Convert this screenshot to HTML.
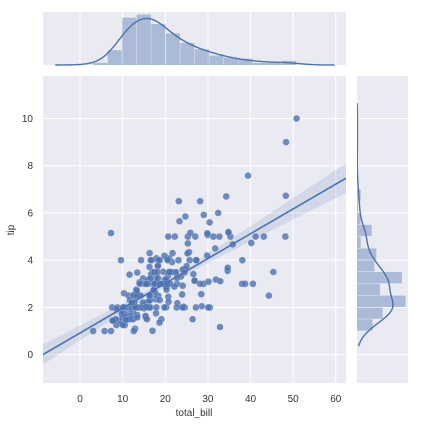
<!DOCTYPE html>
<html><head><meta charset="utf-8"><style>
html,body{margin:0;padding:0;background:#fff;}
svg{display:block;font-family:"Liberation Sans",sans-serif;}
</style></head><body>
<svg id="chart" width="421" height="424"></svg>
<script>
const totalBill=[16.99,10.34,21.01,23.68,24.59,25.29,8.77,26.88,15.04,14.78,10.27,35.26,15.42,18.43,14.83,21.58,10.33,16.29,16.97,20.65,17.92,20.29,15.77,39.42,19.82,17.81,13.37,12.69,21.7,19.65,9.55,18.35,15.06,20.69,17.78,24.06,16.31,16.93,18.69,31.27,16.04,17.46,13.94,9.68,30.4,18.29,22.23,32.4,28.55,18.04,12.54,10.29,34.81,9.94,25.56,19.49,38.01,26.41,11.24,48.27,20.29,13.81,11.02,18.29,17.59,20.08,16.45,3.07,20.23,15.01,12.02,17.07,26.86,25.28,14.73,10.51,17.92,27.2,22.76,17.29,19.44,16.66,10.07,32.68,15.98,34.83,13.03,18.28,24.71,21.16,28.97,22.49,5.75,16.32,22.75,40.17,27.28,12.03,21.01,12.46,11.35,15.38,44.3,22.42,20.92,15.36,20.49,25.21,18.24,14.31,14.0,7.25,38.07,23.95,25.71,17.31,29.93,10.65,12.43,24.08,11.69,13.42,14.26,15.95,12.48,29.8,8.52,14.52,11.38,22.82,19.08,20.27,11.17,12.26,18.26,8.51,10.33,14.15,16.0,13.16,17.47,34.3,41.19,27.05,16.43,8.35,18.64,11.87,9.78,7.51,14.07,13.13,17.26,24.55,19.77,29.85,48.17,25.0,13.39,16.49,21.5,12.66,16.21,13.81,17.51,24.52,20.76,31.71,10.59,10.63,50.81,15.81,7.25,31.85,16.82,32.9,17.89,14.48,9.6,34.63,34.65,23.33,45.35,23.17,40.55,20.69,20.9,30.46,18.15,23.1,15.69,19.81,28.44,15.48,16.58,7.56,10.34,43.11,13.0,13.51,18.71,12.74,13.0,16.4,20.53,16.47,26.59,38.73,24.27,12.76,30.06,25.89,48.33,13.27,28.17,12.9,28.15,11.59,7.74,30.14,12.16,13.42,8.58,15.98,13.42,16.27,10.09,20.45,13.28,22.12,24.01,15.69,11.61,10.77,15.53,10.07,12.6,32.83,35.83,29.03,27.18,22.67,17.82,18.78];
const tip=[1.01,1.66,3.5,3.31,3.61,4.71,2.0,3.12,1.96,3.23,1.71,5.0,1.57,3.0,3.02,3.92,1.67,3.71,3.5,3.35,4.08,2.75,2.23,7.58,3.18,2.34,2.0,2.0,4.3,3.0,1.45,2.5,3.0,2.45,3.27,3.6,2.0,3.07,2.31,5.0,2.24,2.54,3.06,1.32,5.6,3.0,5.0,6.0,2.05,3.0,2.5,2.6,5.2,1.56,4.34,3.51,3.0,1.5,1.76,6.73,3.21,2.0,1.98,3.76,2.64,3.15,2.47,1.0,2.01,2.09,1.97,3.0,3.14,5.0,2.2,1.25,3.08,4.0,3.0,2.71,3.0,3.4,1.83,5.0,2.03,5.17,2.0,4.0,5.85,3.0,3.0,3.5,1.0,4.3,3.25,4.73,4.0,1.5,3.0,1.5,2.5,3.0,2.5,3.48,4.08,1.64,4.06,4.29,3.76,4.0,3.0,1.0,4.0,2.55,4.0,3.5,5.07,1.5,1.8,2.92,2.31,1.68,2.5,2.0,2.52,4.2,1.48,2.0,2.0,2.18,1.5,2.83,1.5,2.0,3.25,1.25,2.0,2.0,2.0,2.75,3.5,6.7,5.0,5.0,2.3,1.5,1.36,1.63,1.73,2.0,2.5,2.0,2.74,2.0,2.0,5.14,5.0,3.75,2.61,2.0,3.5,2.5,2.0,2.0,3.0,3.48,2.24,4.5,1.61,2.0,10.0,3.16,5.15,3.18,4.0,3.11,2.0,2.0,4.0,3.55,3.68,5.65,3.5,6.5,3.0,5.0,3.5,2.0,3.5,4.0,1.5,4.19,2.56,2.02,4.0,1.44,2.0,5.0,2.0,2.0,4.0,2.01,2.0,2.5,4.0,3.23,3.41,3.0,2.03,2.23,2.0,5.16,9.0,2.5,6.5,1.1,3.0,1.5,1.44,3.09,2.2,3.48,1.92,3.0,1.58,2.5,2.0,3.0,2.72,2.88,2.0,3.0,3.39,1.47,3.0,1.25,1.0,1.17,4.67,5.92,2.0,2.0,1.75,3.0];
const xTicks=[0,10,20,30,40,50,60];
const yTicks=[0,2,4,6,8,10];
const billBins=14, tipBins=18;

const NS="http://www.w3.org/2000/svg";
const svg=document.getElementById('chart');
function mk(tag,attrs,parent){const e=document.createElementNS(NS,tag);for(const k in attrs)e.setAttribute(k,attrs[k]);(parent||svg).appendChild(e);return e;}
const M={l:43,r:346,t:76,b:383};
const X0=-8.7,X1=62.4,Y0=-1.2,Y1=11.8;
const sx=v=>M.l+(v-X0)/(X1-X0)*(M.r-M.l);
const sy=v=>M.b-(v-Y0)/(Y1-Y0)*(M.b-M.t);
const TOP={t:12,b:65}, RT={l:357,r:408};
const BG="#eaeaf2", C="#4c72b0";

let e;
e=mk('rect',{x:M.l,y:M.t,width:M.r-M.l,height:M.b-M.t,fill:BG});

e=mk('rect',{x:M.l,y:TOP.t,width:M.r-M.l,height:TOP.b-TOP.t,fill:BG});

e=mk('rect',{x:RT.l,y:M.t,width:RT.r-RT.l,height:M.b-M.t,fill:BG});


xTicks.forEach(t=>{
  mk('line',{x1:sx(t),x2:sx(t),y1:M.t,y2:M.b,stroke:'#fff','stroke-width':1});
  mk('line',{x1:sx(t),x2:sx(t),y1:TOP.t,y2:TOP.b,stroke:'#fff','stroke-width':1});
  e=mk('text',{x:sx(t),y:402,'text-anchor':'middle','font-size':10,fill:'#333'});e.textContent=t;
  
});
yTicks.forEach(t=>{
  mk('line',{x1:M.l,x2:M.r,y1:sy(t),y2:sy(t),stroke:'#fff','stroke-width':1});
  mk('line',{x1:RT.l,x2:RT.r,y1:sy(t),y2:sy(t),stroke:'#fff','stroke-width':1});
  e=mk('text',{x:33,y:sy(t)+3.5,'text-anchor':'end','font-size':10,fill:'#333'});e.textContent=t;
  
});
e=mk('text',{x:194,y:416,'text-anchor':'middle','font-size':10,fill:'#333'});e.textContent='total_bill';

e=mk('text',{x:0,y:0,'text-anchor':'middle','font-size':10,fill:'#333',transform:'translate(14,230) rotate(-90)'});e.textContent='tip';


const n=totalBill.length;
const mx=totalBill.reduce((a,b)=>a+b)/n, my=tip.reduce((a,b)=>a+b)/n;
let sxx=0,sxy=0;for(let i=0;i<n;i++){sxx+=(totalBill[i]-mx)**2;sxy+=(totalBill[i]-mx)*(tip[i]-my);}
const slope=sxy/sxx, icpt=my-slope*mx;
let sse=0;for(let i=0;i<n;i++){sse+=(tip[i]-icpt-slope*totalBill[i])**2;}
const s=Math.sqrt(sse/(n-2));
let up=[],lo=[];
for(let k=0;k<=60;k++){const xv=X0+(X1-X0)*k/60;const yh=icpt+slope*xv;const se=s*Math.sqrt(1/n+(xv-mx)**2/sxx)*1.97;
 up.push(sx(xv)+','+sy(yh+se));lo.unshift(sx(xv)+','+sy(yh-se));}
const clip=mk('clipPath',{id:'mc'});mk('rect',{x:M.l,y:M.t,width:M.r-M.l,height:M.b-M.t},clip);
const g=mk('g',{'clip-path':'url(#mc)'});
e=mk('polygon',{points:up.concat(lo).join(' '),fill:C,'fill-opacity':0.15},g);

totalBill.forEach((b,i)=>{
  const p=mk('circle',{cx:sx(b),cy:sy(tip[i]),r:3.4,fill:C,'fill-opacity':0.8,stroke:'#fff','stroke-width':0.3,'stroke-opacity':0.6},g);
  
  
});
e=mk('line',{x1:sx(X0),y1:sy(icpt+slope*X0),x2:sx(X1),y2:sy(icpt+slope*X1),stroke:C,'stroke-width':1.6},g);


function hist(arr,nb){const mn=Math.min(...arr),mxv=Math.max(...arr),w=(mxv-mn)/nb;const c=new Array(nb).fill(0);
 arr.forEach(v=>{let k=Math.floor((v-mn)/w);if(k>=nb)k=nb-1;c[k]++;});return {mn,w,d:c.map(v=>v/(arr.length*w))};}
function kde(arr,cut){const m=arr.reduce((a,b)=>a+b)/arr.length;const sd=Math.sqrt(arr.reduce((a,b)=>a+(b-m)**2,0)/(arr.length-1));
 const bw=sd*Math.pow(arr.length,-0.2);const lo=Math.min(...arr)-cut*bw,hi=Math.max(...arr)+cut*bw;const pts=[];
 for(let k=0;k<=150;k++){const x=lo+(hi-lo)*k/150;let d=0;arr.forEach(v=>{d+=Math.exp(-0.5*((x-v)/bw)**2);});pts.push([x,d/(arr.length*bw*Math.sqrt(2*Math.PI))]);}return pts;}
const hb=hist(totalBill,billBins), kb=kde(totalBill,3);
const topMax=Math.max(...hb.d,...kb.map(p=>p[1]))*1.05;
const ty=v=>TOP.b-v/topMax*(TOP.b-TOP.t);
hb.d.forEach((d,k)=>{const x0=sx(hb.mn+k*hb.w),x1=sx(hb.mn+(k+1)*hb.w);
  const r=mk('rect',{x:x0,y:ty(d),width:x1-x0-0.5,height:TOP.b-ty(d),fill:C,'fill-opacity':0.4});
  
  });
e=mk('polyline',{points:kb.map(p=>sx(p[0])+','+ty(p[1])).join(' '),fill:'none',stroke:C,'stroke-width':1.4});


const ht=hist(tip,tipBins), kt=kde(tip,1.4);
const rMax=Math.max(...ht.d,...kt.map(p=>p[1]))*1.05;
const rx=v=>RT.l+v/rMax*(RT.r-RT.l);
const cr=mk('clipPath',{id:'rc'});mk('rect',{x:RT.l,y:M.t,width:RT.r-RT.l,height:M.b-M.t},cr);
const gr=mk('g',{'clip-path':'url(#rc)'});
ht.d.forEach((d,k)=>{const y0=sy(ht.mn+(k+1)*ht.w),y1=sy(ht.mn+k*ht.w);
  const r=mk('rect',{x:RT.l,y:y0,width:rx(d)-RT.l,height:y1-y0-0.5,fill:C,'fill-opacity':0.4},gr);
  
  });
e=mk('polyline',{points:kt.map(p=>rx(p[1])+','+sy(p[0])).join(' '),fill:'none',stroke:C,'stroke-width':1.4},gr);

</script>
</body></html>
